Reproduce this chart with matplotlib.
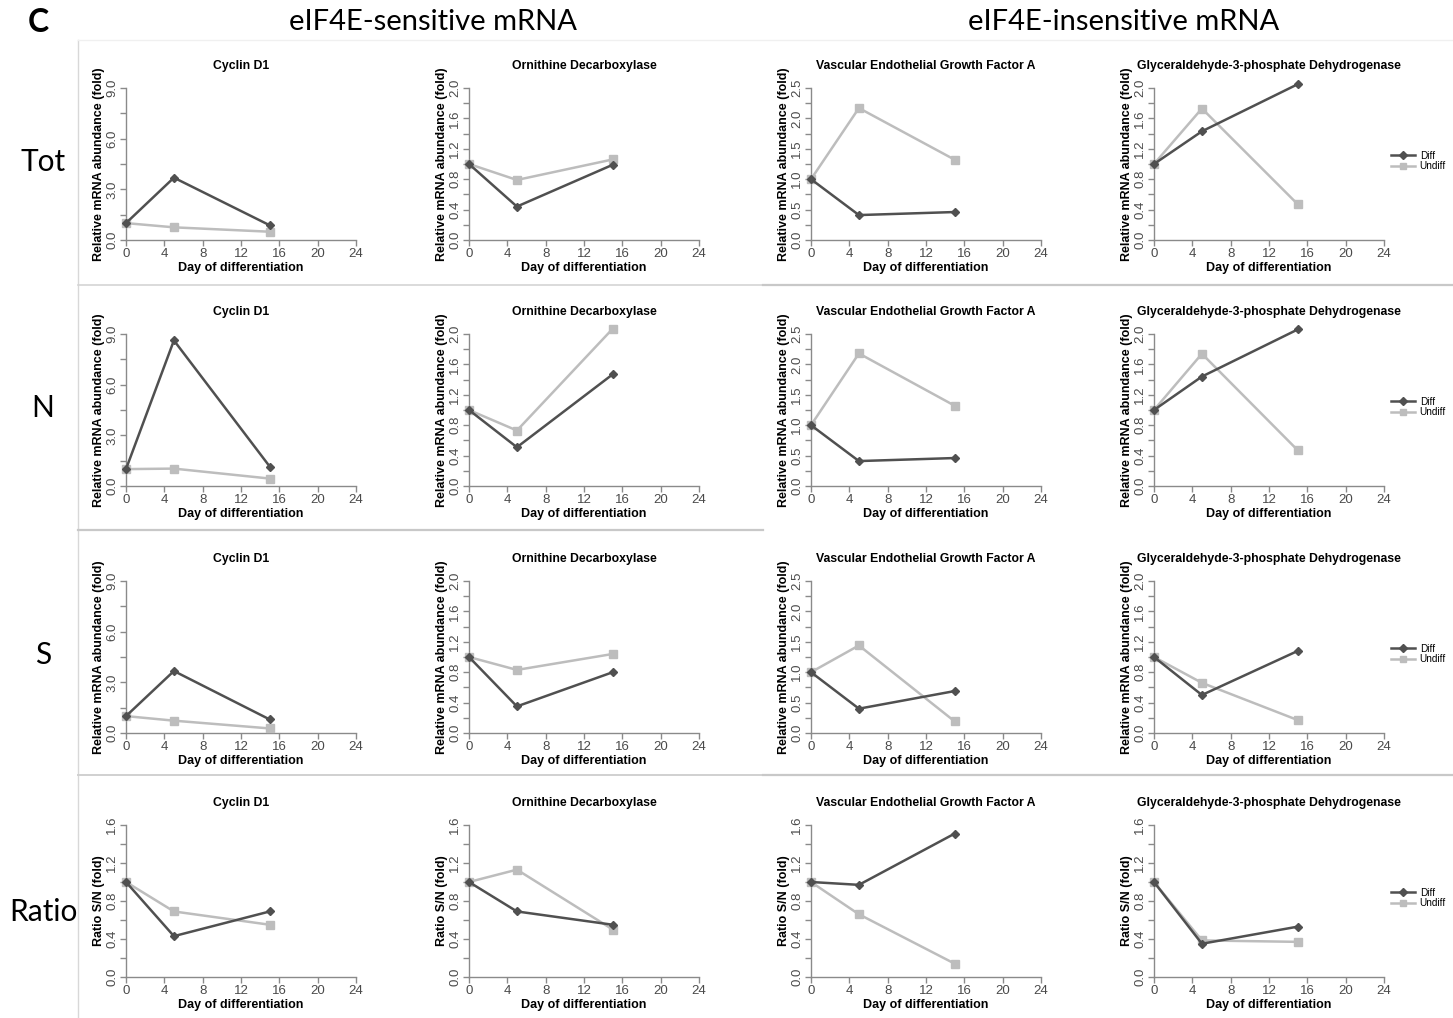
import matplotlib
matplotlib.use("Agg")
import matplotlib.pyplot as plt
from matplotlib.lines import Line2D
from matplotlib.ticker import MultipleLocator

plt.rcParams['font.family'] = ['Liberation Sans Narrow', 'Liberation Sans', 'DejaVu Sans']

# ---- data ----
days = [0, 5, 15]
genes = ["Cyclin D1", "Ornithine Decarboxylase",
         "Vascular Endothelial Growth Factor A",
         "Glyceraldehyde-3-phosphate Dehydrogenase"]
row_names = ["Tot", "N", "S", "Ratio"]
group_titles = ["eIF4E-sensitive mRNA", "eIF4E-insensitive mRNA"]

tot_diff = [[1.0, 3.69, 0.87], [1.0, 0.44, 0.99], [1.0, 0.41, 0.46], [1.0, 1.43, 2.05]]
tot_undiff = [[1.0, 0.75, 0.49], [1.0, 0.79, 1.06], [1.0, 2.17, 1.32], [1.0, 1.73, 0.47]]
n_diff = [[1.0, 8.62, 1.15], [1.0, 0.51, 1.47], [1.0, 0.41, 0.46], [1.0, 1.44, 2.06]]
n_undiff = [[1.0, 1.03, 0.44], [1.0, 0.73, 2.07], [1.0, 2.18, 1.32], [1.0, 1.74, 0.47]]
s_diff = [[1.0, 3.67, 0.80], [1.0, 0.35, 0.80], [1.0, 0.40, 0.69], [1.0, 0.50, 1.08]]
s_undiff = [[1.0, 0.73, 0.27], [1.0, 0.83, 1.04], [1.0, 1.44, 0.19], [1.0, 0.66, 0.17]]
ratio_diff = [[1.0, 0.43, 0.69], [1.0, 0.69, 0.55], [1.0, 0.97, 1.51], [1.0, 0.35, 0.53]]
ratio_undiff = [[1.0, 0.69, 0.55], [1.0, 1.13, 0.50], [1.0, 0.66, 0.14], [1.0, 0.385, 0.37]]

diff_rows = [tot_diff, n_diff, s_diff, ratio_diff]
undiff_rows = [tot_undiff, n_undiff, s_undiff, ratio_undiff]

# y axis ranges per gene column (abundance rows) and ratio row
ymax_abund = [9.0, 2.0, 2.5, 2.0]
ystep_abund = [3.0, 0.4, 0.5, 0.4]
ymax_ratio = 1.6
ystep_ratio = 0.4

# ---- layout (pixels of the 1453x1018 canvas) ----
W, H = 1453, 1018
fig = plt.figure(figsize=(W / 100, H / 100), dpi=100)

def fx(px):
    return px / W

def fy(py):
    return 1 - py / H

col_left = [126, 469, 811, 1154]
row_y0 = [240, 486, 733, 977]
axis_w, axis_h = 230, 152

diff_col = "#505050"
undiff_col = "#bdbdbd"
axis_col = "#8a8a8a"

for r in range(4):
    for c in range(4):
        ax = fig.add_axes([fx(col_left[c]), fy(row_y0[r]), axis_w / W, axis_h / H])
        ax.plot(days, undiff_rows[r][c], color=undiff_col, lw=1.8, marker="s",
                ms=5.5, clip_on=False, label="Undiff", zorder=3)
        ax.plot(days, diff_rows[r][c], color=diff_col, lw=1.8, marker="D",
                ms=4.5, clip_on=False, label="Diff", zorder=4)

        if r == 3:
            ymax, ystep = ymax_ratio, ystep_ratio
            ylab = "Ratio S/N (fold)"
        else:
            ymax, ystep = ymax_abund[c], ystep_abund[c]
            ylab = "Relative mRNA abundance (fold)"

        ax.set_xlim(0, 24)
        ax.set_ylim(0, ymax)
        ax.xaxis.set_major_locator(MultipleLocator(4))
        ax.yaxis.set_major_locator(MultipleLocator(ystep))
        ax.yaxis.set_minor_locator(MultipleLocator(ystep / 2))
        ax.yaxis.set_major_formatter(matplotlib.ticker.FormatStrFormatter("%.1f"))

        for s in ["top", "right"]:
            ax.spines[s].set_visible(False)
        for s in ["left", "bottom"]:
            ax.spines[s].set_color(axis_col)
            ax.spines[s].set_linewidth(1.0)
        ax.tick_params(which="both", direction="out", length=4, width=1,
                       color=axis_col, labelcolor="#4a4a4a", labelsize=9.5, pad=1.5)
        ax.tick_params(axis="y", labelrotation=90)
        for lab in ax.get_yticklabels():
            lab.set_va("center")

        ax.set_title(genes[c], fontsize=8.8, fontweight="bold", pad=14)
        ax.set_xlabel("Day of differentiation", fontsize=9, fontweight="bold", labelpad=2)
        ax.set_ylabel(ylab, fontsize=9, fontweight="bold", labelpad=1)

        if c == 3:
            h, l = ax.get_legend_handles_labels()
            ax.legend(h[::-1], l[::-1], loc="center left", bbox_to_anchor=(0.99, 0.52),
                      frameon=False, fontsize=7.2, handlelength=2.4,
                      handletextpad=0.5, labelspacing=0.05, markerscale=0.8)

# ---- headings and row labels ----
fig.text(fx(38), fy(22), "C", fontsize=23, fontweight="bold", family="Lato",
         ha="center", va="center")
fig.text(fx(433), fy(22), group_titles[0], fontsize=21, family="Lato",
         ha="center", va="center")
fig.text(fx(1124), fy(22), group_titles[1], fontsize=21, family="Lato",
         ha="center", va="center")
row_label_y = [162, 408, 655, 912]
for name, y in zip(row_names, row_label_y):
    fig.text(fx(43), fy(y), name, fontsize=21.5, family="Lato", ha="center", va="center")

# ---- panel separators ----
def sep(x0, y0, x1, y1, color, lw):
    fig.add_artist(Line2D([fx(x0), fx(x1)], [fy(y0), fy(y1)], color=color, lw=lw))

sep(78, 40, 78, 1018, "#d8d8d8", 1.0)
sep(78, 40, W, 40, "#f0f0f0", 1.0)
sep(78, 285, 763, 285, "#d4d4d4", 1.2)
sep(763, 285, W, 285, "#c8c8c8", 1.6)
sep(78, 530, 763, 530, "#c8c8c8", 1.6)
sep(78, 775, 763, 775, "#d0d0d0", 1.4)
sep(763, 775, W, 775, "#c8c8c8", 1.6)

fig.savefig("out.png", dpi=100)
